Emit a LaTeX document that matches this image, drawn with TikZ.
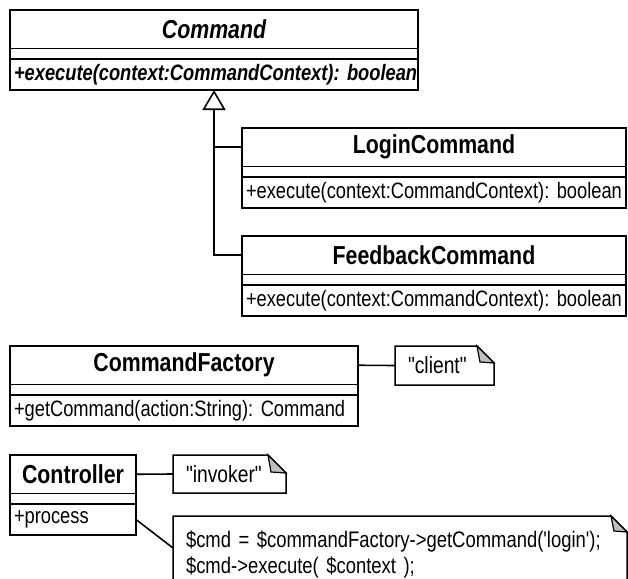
\documentclass[tikz,border=0pt]{standalone}
\usepackage{fontspec}
\setmainfont{Liberation Sans}[FakeStretch=0.82, Ligatures=TeXOff]
\frenchspacing
\usetikzlibrary{calc, positioning, arrows.meta}

\newcommand{\headfont}{\fontsize{26}{30}\selectfont\bfseries}
\newcommand{\opsfont}{\fontsize{22.3}{26}\selectfont}
\newcommand{\notefont}{\fontsize{23.5}{26}\selectfont}

\tikzset{
  box/.style={draw, line width=1.5pt, inner sep=0pt, outer sep=0pt},
  clshead/.style={box, minimum width=#1, minimum height=38.5pt, font=\headfont},
  clsattr/.style={box, minimum width=#1, minimum height=10.5pt},
  clsops/.style={box, text width=\dimexpr#1-8pt\relax, inner xsep=4pt, minimum height=31pt, align=left, font=\opsfont,
    execute at begin node={\hbox\bgroup}, execute at end node={\egroup}},
  note/.style={inner xsep=13pt, inner ysep=0pt, outer sep=0pt, align=left, font=\notefont},
  notepen/.style={line width=1.5pt, line join=miter},
  link/.style={line width=1.6pt}
}

\begin{document}
\begin{tikzpicture}[x=1pt, y=-1pt]
  \clip (0,0) rectangle (628,578);

  % abstract command
  \node[clshead=408pt, anchor=north west, font=\headfont\itshape] (cmd) at (10,10) {Command};
  \node[clsattr=408pt, below=0pt of cmd] (cmd-attr) {};
  \node[clsops=408pt, below=0pt of cmd-attr, font=\opsfont\bfseries\itshape] (cmd-ops) {+execute(context:CommandContext): boolean};

  % concrete commands
  \node[clshead=384pt, anchor=north west] (login) at (242,128) {LoginCommand};
  \node[clsattr=384pt, below=0pt of login] (login-attr) {};
  \node[clsops=384pt, below=0pt of login-attr] (login-ops) {+execute(context:CommandContext): boolean};

  \node[clshead=384pt, anchor=north west] (feedback) at (242,236) {FeedbackCommand};
  \node[clsattr=384pt, below=0pt of feedback] (feedback-attr) {};
  \node[clsops=384pt, below=0pt of feedback-attr] (feedback-ops) {+execute(context:CommandContext): boolean};

  \node[clshead=348pt, anchor=north west] (factory) at (10,346) {CommandFactory};
  \node[clsattr=348pt, below=0pt of factory] (factory-attr) {};
  \node[clsops=348pt, below=0pt of factory-attr] (factory-ops) {+getCommand(action:String): Command};

  \node[clshead=126pt, anchor=north west] (ctrl) at (10,455) {Controller};
  \node[clsattr=126pt, below=0pt of ctrl] (ctrl-attr) {};
  \node[clsops=126pt, below=0pt of ctrl-attr] (ctrl-ops) {+process};

  % notes
  \node[note, anchor=north west, text width=73pt, minimum height=39pt] (client) at (395,346) {"client"};
  \node[note, anchor=north west, text width=87pt, minimum height=38pt] (invoker) at (173,455) {"invoker"};
  \node[note, anchor=north west, text width=428pt, minimum height=76pt, font=\fontsize{22.5}{26}\selectfont] (code) at (173,516)
    {\mbox{\$cmd = \$commandFactory->getCommand('login');}\\\mbox{\$cmd->execute( \$context );}};
  \coordinate (codepin) at ($(code.north west)+(0,32)$);

  \foreach \n/\f in {client/17, invoker/18, code/16} {
    \draw[notepen] (\n.north west) -- ($(\n.north east)+(-\f,0)$) -- ($(\n.north east)+(0,\f)$)
      -- (\n.south east) -- (\n.south west) -- cycle;
    \filldraw[notepen, fill=black!25, line width=1.2pt] ($(\n.north east)+(-\f,0)$) -- ($(\n.north east)+(-\f+3,\f-1)$)
      -- ($(\n.north east)+(0,\f)$) -- cycle;
  }

  % inheritance
  \draw[link] (login.west) -- (login.west -| cmd-ops.south);
  \draw[link, -{Triangle[fill=white, length=20pt, width=23pt]}] (feedback.west) -| (cmd-ops.south);

  \draw[link] (factory.east) -- (client.west);
  \draw[link] (ctrl.east) -- (invoker.west);
  \draw[link] (ctrl-ops.east) -- (codepin);
\end{tikzpicture}
\end{document}
